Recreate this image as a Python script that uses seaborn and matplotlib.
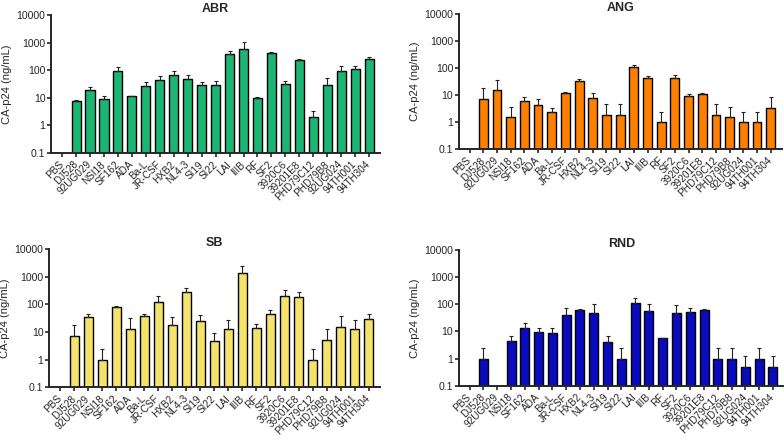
import numpy as np
import pandas as pd
import seaborn as sns
import matplotlib
matplotlib.use("Agg")
import matplotlib.pyplot as plt
from matplotlib.ticker import FixedLocator, FuncFormatter, NullLocator

# strains on the x axis
categories = ["PBS", "DJ528", "92UG029", "NSI18", "SF162", "ADA", "Ba-L", "JR-CSF",
              "HXB2", "NL4-3", "SI19", "SI22", "LAI", "IIIB", "RF", "SF2", "3920C6",
              "39201E8", "PHD79C12", "PHD79B8", "92UG024", "94TH001", "94TH304"]

# mean values (ng/mL), NaN = no bar
abr_vals = [np.nan, 7.4, 20, 9.2, 97, 11.5, 28, 45, 67, 50, 29, 30, 390, 590, 10.3, 410,
            33, 225, 2.0, 30, 97, 110, 245]
abr_top = [np.nan, 8.4, 25, 11.5, 135, 12, 38, 63, 90, 67, 38, 42, 500, 1090, 11, 450,
           41, 245, 3.4, 52, 145, 140, 305]

ang_vals = [np.nan, 6.9, 15, 1.5, 6.3, 4.4, 2.4, 11.5, 33, 8, 1.9, 1.9, 112, 44, 1.0, 43,
            9.4, 11.2, 1.9, 1.5, 1.0, 1.0, 3.3]
ang_top = [np.nan, 17.6, 36, 3.7, 8.7, 6.9, 3.2, 13, 39, 12, 4.8, 4.8, 133, 51, 2.3, 57,
           11, 11.5, 4.8, 3.5, 2.3, 2.3, 8.2]

sb_vals = [np.nan, 7.1, 34, 1.0, 82, 13, 38, 118, 17.5, 290, 24, 4.7, 13, 1320, 13.5, 44,
           195, 185, 1.0, 5.3, 15, 13, 30]
sb_top = [np.nan, 18, 45, 2.4, 86, 32, 45, 195, 35, 380, 40, 9, 28, 2500, 19, 61,
          320, 275, 2.4, 13, 38, 28, 45]

rnd_vals = [np.nan, 1.0, np.nan, 4.5, 13, 9.5, 8.5, 42, 64, 48, 4.0, 1.0, 115, 59, 6.0, 47,
            52, 62, 1.0, 1.0, 0.5, 1.0, 0.5]
rnd_top = [np.nan, 2.5, np.nan, 7, 20, 13.5, 13.5, 73, 68, 105, 7, 2.5, 170, 105, 6.0, 95,
           76, 70, 2.5, 2.5, 1.25, 2.5, 1.25]

panels = [
    ("ABR", abr_vals, abr_top, "#1db574", [0.065, 0.652, 0.420, 0.314]),
    ("ANG", ang_vals, ang_top, "#ff8000", [0.585, 0.661, 0.412, 0.307]),
    ("SB", sb_vals, sb_top, "#f3e36b", [0.0625, 0.120, 0.422, 0.314]),
    ("RND", rnd_vals, rnd_top, "#0a0abf", [0.585, 0.123, 0.415, 0.309]),
]

sns.set_style("ticks")
plt.rcParams["font.family"] = ["Liberation Sans", "DejaVu Sans"]

fig = plt.figure(figsize=(7.84, 4.40), dpi=100)

for title, vals, top, color, rect in panels:
    ax = fig.add_axes(rect)
    ax.set_yscale("log")
    df = pd.DataFrame({"strain": categories, "value": vals})
    sns.barplot(data=df, x="strain", y="value", order=categories, color=color,
                width=0.65, edgecolor="black", linewidth=1.0, saturation=1,
                errorbar=None, ax=ax)
    # upper error bars only
    v = np.array(vals, dtype=float)
    t = np.array(top, dtype=float)
    up = np.nan_to_num(t - v)
    ax.errorbar(np.arange(len(categories)), v, yerr=[np.zeros_like(up), up],
                fmt="none", ecolor="#222222", elinewidth=0.8, capsize=1.6,
                capthick=0.8)
    ax.set_ylim(0.1, 10000)
    ax.set_xlim(-0.8, len(categories) - 0.2)
    ax.yaxis.set_major_locator(FixedLocator([0.1, 1, 10, 100, 1000, 10000]))
    ax.yaxis.set_minor_locator(NullLocator())
    ax.yaxis.set_major_formatter(FuncFormatter(lambda y, p: f"{y:g}"))
    ax.set_xticks(range(len(categories)))
    ax.set_xticklabels(categories, rotation=45, ha="right", va="center",
                       rotation_mode="anchor", fontsize=7.2)
    ax.tick_params(axis="y", labelsize=7.6, length=3, width=1.2, pad=1)
    ax.tick_params(axis="x", length=3, width=1.2, pad=4)
    for s in ["left", "bottom"]:
        ax.spines[s].set_linewidth(1.4)
    sns.despine(ax=ax)
    ax.set_xlabel("")
    ax.set_ylabel("CA-p24 (ng/mL)", fontsize=8, labelpad=3)
    ax.set_title(title, fontsize=9, fontweight="bold", pad=1.5)

fig.savefig("out.png", dpi=100)
